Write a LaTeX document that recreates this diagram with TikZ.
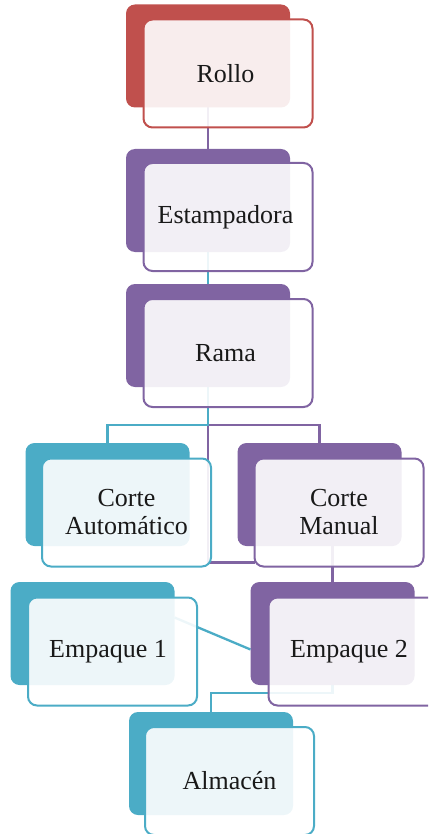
\documentclass[tikz,border=0pt]{standalone}
\usepackage{fontspec}
\setmainfont{Liberation Serif}
\usetikzlibrary{calc}
\pgfdeclarelayer{bg}
\pgfsetlayers{bg,main}

\definecolor{cred}{HTML}{C0504D}
\definecolor{cpurple}{HTML}{8064A2}
\definecolor{cteal}{HTML}{4BACC6}

\tikzset{
  backcard/.style={rectangle, rounded corners=9pt, fill=#1,
    minimum width=164pt, minimum height=103pt, inner sep=0pt, outer sep=0pt},
  frontcard/.style={rectangle, rounded corners=9pt, draw=#1, line width=2pt,
    fill=white, fill opacity=0.9, text opacity=1,
    minimum width=169pt, minimum height=108pt, inner sep=0pt, outer sep=0pt,
    align=center, font=\fontsize{26}{28}\selectfont, text=black!90},
  link/.style={draw=#1, line width=2.3pt},
}

\begin{document}
\begin{tikzpicture}[x=1pt,y=-1pt]
\clip (0,0) rectangle (428,834);
\useasboundingbox (0,0) rectangle (428,834);

% back plates
\node[backcard=cred]    (rollo-b) at (208,56)    {};
\node[backcard=cpurple] (estam-b) at (208,200.5) {};
\node[backcard=cpurple] (rama-b)  at (208,335.5) {};
\node[backcard=cteal]   (cauto-b) at (107.5,494.5) {};
\node[backcard=cpurple] (cman-b)  at (319.5,494.5) {};
\node[backcard=cteal]   (emp1-b)  at (92.5,633.5) {};
\node[backcard=cpurple] (emp2-b)  at (332.5,633.5) {};
\node[backcard=cteal]   (alm-b)   at (211,763.5) {};

% front cards with labels
\node[frontcard=cred]    (rollo-f) at (228,73.5)  {Rollo\hspace*{5pt}};
\node[frontcard=cpurple] (estam-f) at (228,217)   {Estampadora\hspace*{5pt}};
\node[frontcard=cpurple] (rama-f)  at (228,353)   {Rama\hspace*{5pt}};
\node[frontcard=cteal]   (cauto-f) at (126.5,512.5) {Corte\\Automático};
\node[frontcard=cpurple] (cman-f)  at (339,512.5) {Corte\\Manual};
\node[frontcard=cteal]   (emp1-f)  at (112.5,651.5) {Empaque 1\hspace*{9pt}};
\node[frontcard=cpurple] (emp2-f)  at (353,651.5) {Empaque 2\hspace*{8pt}};
\node[frontcard=cteal]   (alm-f)   at (229.5,781) {Almacén};

% connectors, kept behind the cards
\begin{pgfonlayer}{bg}
  \coordinate (split) at ($(rama-b.south)+(0,38)$);
  \coordinate (cmanin) at ($(cman-f.south west)+(0,-4)$);
  \coordinate (e1out) at ($(emp1-b.east)+(0,-16)$);
  \coordinate (e2in)  at ($(emp2-b.west)+(0,16)$);
  \coordinate (almtop) at ($(alm-b.north)+(0,-19)$);

  \draw[link=cpurple] (rollo-b.south) -- (estam-b.north);
  \draw[link=cteal]   (estam-b.south) -- (rama-b.north);
  \draw[link=cpurple] (split) -| (cman-b.north);
  \draw[link=cpurple] (split) -- (split |- cmanin) -- (cmanin);
  \draw[link=cteal]   (rama-b.south) -- (split) -| (cauto-b.north);
  \draw[link=cpurple] (cman-b.south -| emp2-b.north) -- (emp2-b.north);
  \draw[link=cteal]   (e1out) -- (e2in);
  \draw[link=cteal]   (emp2-b.south) |- (almtop) -- (alm-b.north);
\end{pgfonlayer}
\end{tikzpicture}
\end{document}
